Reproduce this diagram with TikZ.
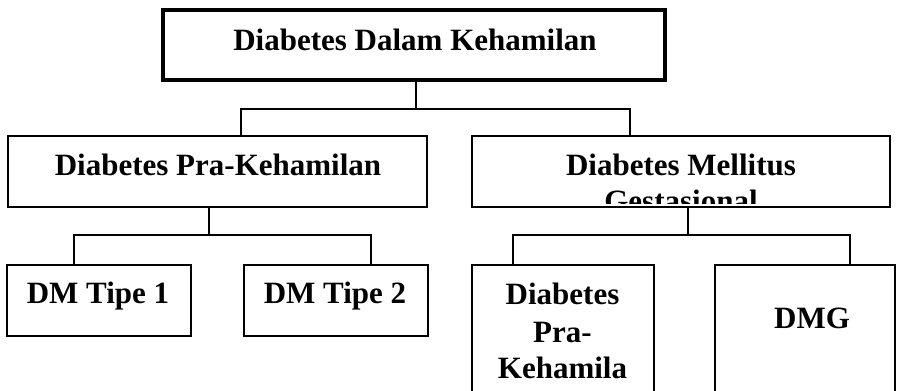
\documentclass[tikz,border=0pt]{standalone}
\usepackage{fontspec}
\setmainfont{Liberation Serif}
\begin{document}
\begin{tikzpicture}[x=1pt,y=-1pt,
  box/.style={draw, line width=2pt, inner sep=0pt, outer sep=0pt},
  lbl/.style={font=\bfseries\fontsize{31}{36}\selectfont, inner sep=0pt, anchor=base},
  link/.style={line width=1.3pt}]
\useasboundingbox (0,0) rectangle (900,391);

% boxes
\node[box, line width=4pt, minimum width=502pt, minimum height=70pt] (top) at (414,45) {};
\node[box, minimum width=419pt, minimum height=71pt] (pre) at (217.5,171.5) {};
\node[box, minimum width=418pt, minimum height=71pt] (gdm) at (681,171.5) {};
\node[box, minimum width=184pt, minimum height=71pt] (t1) at (99,300.5) {};
\node[box, minimum width=184pt, minimum height=71pt] (t2) at (336,300.5) {};
\node[box, minimum width=182pt, minimum height=155pt] (pk) at (563,342.5) {};
\node[box, minimum width=180pt, minimum height=155pt] (dmg) at (805,342.5) {};

% labels
\node[lbl] (topt) at (415,50) {Diabetes Dalam Kehamilan};
\node[lbl] (pret) at (218,175) {Diabetes Pra-Kehamilan};
\begin{scope}
  \clip (473,137) rectangle (889,203);
  \node[lbl] (gdm1) at (681,175) {Diabetes Mellitus};
  \node[lbl] (gdm2) at (681,211) {Gestasional};
\end{scope}
\node[lbl] (t1t) at (98,303) {DM Tipe 1};
\node[lbl] (t2t) at (335,303) {DM Tipe 2};
\node[lbl] (pk1) at (562.5,304) {Diabetes};
\node[lbl] (pk2) at (562.5,342) {Pra-};
\node[lbl] (pk3) at (562.5,378) {Kehamila};
\node[lbl] (dmgt) at (812,328) {DMG};

% connectors
\coordinate (j0) at (416,109);
\coordinate (jl) at (241,109);
\coordinate (jr) at (630,109);
\draw[link] (j0 |- top.south) -- (j0);
\draw[link] (jl |- pre.north) -- (jl) -- (jr) -- (jr |- gdm.north);

\coordinate (k0) at (209,235);
\coordinate (kl) at (74,235);
\coordinate (kr) at (371,235);
\draw[link] (k0 |- pre.south) -- (k0);
\draw[link] (kl |- t1.north) -- (kl) -- (kr) -- (kr |- t2.north);

\coordinate (m0) at (688,235);
\coordinate (ml) at (513,235);
\coordinate (mr) at (850,235);
\draw[link] (m0 |- gdm.south) -- (m0);
\draw[link] (ml |- pk.north) -- (ml) -- (mr) -- (mr |- dmg.north);
\end{tikzpicture}
\end{document}
